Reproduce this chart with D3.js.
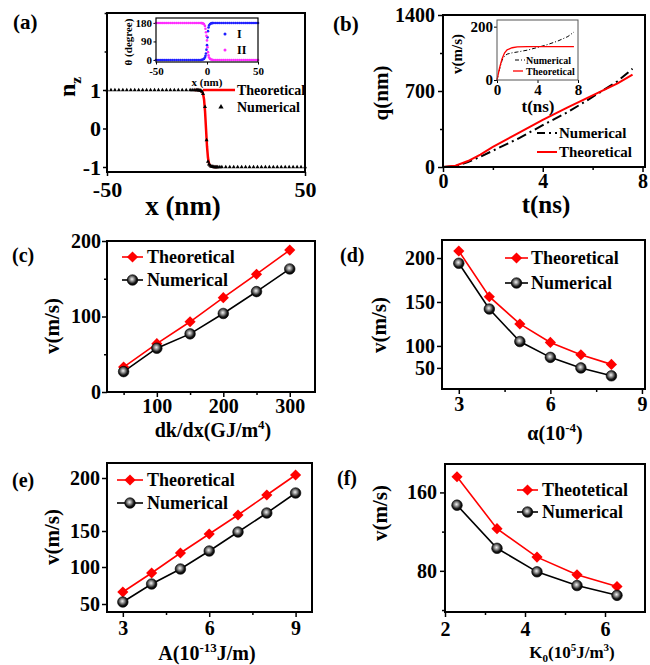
<!DOCTYPE html>
<html>
<head>
<meta charset="utf-8">
<script src="https://cdn.jsdelivr.net/npm/d3@7"></script>
<style>
body { margin: 0; background: #fff; }
text { font-family: 'Liberation Serif', 'Times New Roman', serif; font-weight: bold; fill: #000; }
</style>
</head>
<body>
<script>
// ---------- (a) domain wall profile ----------
const aTheoX = [-6, -4, -3, -2, -1.5, -1, -0.5, 0, 0.5, 1, 1.5, 2, 3, 4, 6];
const aTheoY = [1, 1, 0.99, 0.96, 0.9, 0.76, 0.46, 0, -0.46, -0.76, -0.9, -0.96, -0.99, -1, -1];
const aNumX = [-50, -48, -46, -44, -42, -40, -38, -36, -34, -32, -30, -28, -26, -24, -22, -20, -18, -16, -14, -12, -10, -8,
  -7, -6, -5, -4.5, -4, -3.5, -3, -2.5, -2, -1.5, -0.5, 0.3, 1, 1.5, 2, 2.5, 3, 3.5,
  4, 4.5, 5, 5.5, 6, 7, 8, 10, 12, 14, 16, 18, 20, 22, 24, 26, 28, 30, 32, 34, 36, 38, 40, 42, 44, 46, 48, 50];
const aNumY = [1, 1, 1, 1, 1, 1, 1, 1, 1, 1, 1, 1, 1, 1, 1, 1, 1, 1, 1, 1, 1, 1,
  1, 1, 1, 1, 1, 0.99, 0.99, 0.98, 0.96, 0.9, 0.56, -0.3, -0.86, -0.93, -0.96, -0.98, -0.99, -0.99,
  -1, -1, -1, -1, -1, -1, -1, -1, -1, -1, -1, -1, -1, -1, -1, -1, -1, -1, -1, -1, -1, -1, -1, -1, -1, -1, -1, -1];
// inset: theta of sublattices I and II
const thX = [-50, -48, -46, -44, -42, -40, -38, -36, -34, -32, -30, -28, -26, -24, -22, -20, -18, -16, -14, -12, -10, -8, -6,
  -5, -4, -3, -2, -1.5, -1, -0.5, 0, 0.5, 1, 1.5, 2, 3, 4, 5,
  6, 8, 10, 12, 14, 16, 18, 20, 22, 24, 26, 28, 30, 32, 34, 36, 38, 40, 42, 44, 46, 48, 50];
const thI = [0, 0, 0, 0, 0, 0, 0, 0, 0, 0, 0, 0, 0, 0, 0, 0, 0, 0, 0, 0, 0, 0, 0,
  1, 2, 5, 12, 20, 31, 50, 72, 110, 140, 158, 168, 175, 178, 179,
  180, 180, 180, 180, 180, 180, 180, 180, 180, 180, 180, 180, 180, 180, 180, 180, 180, 180, 180, 180, 180, 180, 180];
const thII = [180, 180, 180, 180, 180, 180, 180, 180, 180, 180, 180, 180, 180, 180, 180, 180, 180, 180, 180, 180, 180, 180, 180,
  179, 178, 174, 165, 152, 135, 117, 95, 62, 38, 22, 12, 5, 2, 1,
  0, 0, 0, 0, 0, 0, 0, 0, 0, 0, 0, 0, 0, 0, 0, 0, 0, 0, 0, 0, 0, 0, 0];

// ---------- (b) wall position and velocity vs time ----------
const bT = [0, 0.5, 1, 1.5, 2, 3, 4, 5, 6, 7, 7.6];
const bQTheo = [0, 12, 55, 115, 185, 310, 435, 550, 660, 770, 850];
const bQNum = [0, 10, 45, 95, 150, 260, 385, 505, 645, 790, 905];
const bvT = [0, 0.25, 0.5, 0.75, 1, 1.5, 2, 3, 4, 5, 6, 7, 7.6];
const bVTheo = [0, 45, 80, 102, 113, 121, 124, 125, 125, 125, 125, 125, 125];
const bVNum = [0, 40, 74, 90, 97, 102, 105, 112, 122, 133, 146, 163, 180];

// ---------- (c) v vs dk/dx ----------
const cX = [50, 100, 150, 200, 250, 300];
const cTheo = [33, 64, 93, 125, 156, 188];
const cNum = [27, 58, 77, 104, 133, 163];

// ---------- (d) v vs alpha ----------
const dX = [3, 4, 5, 6, 7, 8];
const dTheo = [208, 156, 125, 104, 90, 79];
const dNum = [194, 142, 105, 87, 75, 66];
const dYTicks = [75, 100, 150, 200];
const dYLabels = ["50", "100", "150", "200"];

// ---------- (e) v vs A ----------
const eX = [3, 4, 5, 6, 7, 8, 9];
const eTheo = [86, 105, 125, 144, 163, 183, 203];
const eNum = [76, 94, 109, 127, 146, 165, 185];
const eYTicks = [74, 111, 147, 200];
const eYLabels = ["50", "100", "150", "200"];

// ---------- (f) v vs K0 ----------
const fX = [2.3, 3.3, 4.3, 5.3, 6.3];
const fTheo = [176, 123, 94, 76, 64];
const fNum = [147, 103, 79, 65, 55];

const RED = "#ff0000";

const svg = d3.select("body").append("svg").attr("width", 650).attr("height", 665);

// --- gradiente para las bolitas ---
const grad = svg.append("defs").append("radialGradient")
    .attr("id", "ball").attr("cx", "0.45").attr("cy", "0.42").attr("r", "0.6");
[["0", "#f2f2f2"], ["0.3", "#9a9a9a"], ["0.7", "#161616"], ["1", "#000"]].forEach(s =>
    grad.append("stop").attr("offset", s[0]).attr("stop-color", s[1]));

// --- helpers ---
function styleAxis(sel, fs, tw) {
    sel.attr("font-family", null).attr("font-size", fs);
    sel.select(".domain").remove();
    sel.selectAll("line").attr("stroke", "#000").attr("stroke-width", tw);
    sel.selectAll("text").attr("font-size", fs);
}

function panel(box, xDom, yDom, o) {
    const [x0, y0, x1, y1] = box;
    const x = d3.scaleLinear().domain(xDom).range([x0, x1]);
    const y = d3.scaleLinear().domain(yDom).range([y1, y0]);
    const g = svg.append("g");
    if (o.bg) g.append("rect").attr("x", x0).attr("y", y0).attr("width", x1 - x0).attr("height", y1 - y0).attr("fill", "#fff");

    const lab = (vals, labels) => d => labels ? labels[vals.indexOf(d)] : d;
    g.append("g").attr("transform", `translate(0,${y1})`)
        .call(d3.axisBottom(x).tickValues(o.xTicks).tickFormat(lab(o.xTicks, o.xLabels)).tickSize(o.tick).tickPadding(o.xPad))
        .call(styleAxis, o.fs, o.tw);
    g.append("g").attr("transform", `translate(${x0},0)`)
        .call(d3.axisLeft(y).tickValues(o.yTicks).tickFormat(lab(o.yTicks, o.yLabels)).tickSize(o.tick).tickPadding(o.yPad))
        .call(styleAxis, o.fs, o.tw);
    if (o.xMinor) g.append("g").attr("transform", `translate(0,${y1})`)
        .call(d3.axisBottom(x).tickValues(o.xMinor).tickFormat("").tickSize(o.tick * 0.6)).call(styleAxis, o.fs, o.tw);
    if (o.yMinor) g.append("g").attr("transform", `translate(${x0},0)`)
        .call(d3.axisLeft(y).tickValues(o.yMinor).tickFormat("").tickSize(o.tick * 0.6)).call(styleAxis, o.fs, o.tw);

    const data = g.append("g");
    g.append("rect").attr("x", x0).attr("y", y0).attr("width", x1 - x0).attr("height", y1 - y0)
        .attr("fill", "none").attr("stroke", o.frameColor || "#000").attr("stroke-width", o.sw);
    return { x, y, g: data };
}

function drawLine(p, xs, ys, color, w, dash) {
    p.g.append("path")
        .datum(xs.map((d, i) => [d, ys[i]]))
        .attr("d", d3.line().x(d => p.x(d[0])).y(d => p.y(d[1])))
        .attr("fill", "none").attr("stroke", color).attr("stroke-width", w)
        .attr("stroke-dasharray", dash || null);
}

const diamondPath = d3.symbol(d3.symbolSquare, 62)();
function drawDiamonds(p, xs, ys) {
    p.g.selectAll(null).data(xs.map((d, i) => [d, ys[i]])).enter().append("path")
        .attr("d", diamondPath)
        .attr("transform", d => `translate(${p.x(d[0])},${p.y(d[1])}) rotate(45)`)
        .attr("fill", RED);
}
function drawBalls(p, xs, ys) {
    p.g.selectAll(null).data(xs.map((d, i) => [d, ys[i]])).enter().append("circle")
        .attr("cx", d => p.x(d[0])).attr("cy", d => p.y(d[1])).attr("r", 5.3)
        .attr("fill", "url(#ball)").attr("stroke", "#000").attr("stroke-width", 0.6);
}

// text with optional sub/superscripts: parts = ["txt", ["4","sup"], ...]
function label(x, y, parts, size, anchor, opts) {
    opts = opts || {};
    const t = svg.append("text").attr("x", x).attr("y", y)
        .attr("font-size", size).attr("text-anchor", anchor || "start");
    if (opts.rotate) t.attr("transform", `rotate(-90,${x},${y})`);
    let shift = 0;
    (Array.isArray(parts) ? parts : [parts]).forEach(p => {
        const isArr = Array.isArray(p);
        const kind = isArr ? p[1] : null;
        const target = kind === "sup" ? -size * 0.4 : kind === "sub" ? size * 0.25 : 0;
        t.append("tspan").attr("dy", target - shift)
            .attr("font-size", kind ? size * 0.65 : size)
            .text(isArr ? p[0] : p);
        shift = target;
    });
    return t;
}

function legendLineMarker(x1, x2, y, kind, text, tx, fs) {
    const g = svg.append("g");
    g.append("line").attr("x1", x1).attr("x2", x2).attr("y1", y).attr("y2", y)
        .attr("stroke", kind === "d" ? RED : "#000").attr("stroke-width", 1.6);
    const cx = (x1 + x2) / 2;
    if (kind === "d") g.append("path").attr("d", diamondPath).attr("transform", `translate(${cx},${y}) rotate(45)`).attr("fill", RED);
    else g.append("circle").attr("cx", cx).attr("cy", y).attr("r", 5.3).attr("fill", "url(#ball)").attr("stroke", "#000").attr("stroke-width", 0.6);
    label(tx, y + fs * 0.33, text, fs, "start");
}

// ================= (a) =================
const pa = panel([107, 13, 305, 172], [-50, 50], [-1.13, 3], {
    xTicks: [-50, 50], yTicks: [-1, 0, 1], yMinor: [2, 3],
    tick: 4, xPad: 5, yPad: 2, fs: 22, tw: 1.5, sw: 2
});
drawLine(pa, aTheoX, aTheoY, RED, 2.5);
pa.g.selectAll(null).data(aNumX.map((d, i) => [d, aNumY[i]])).enter().append("path")
    .attr("d", d3.symbol(d3.symbolTriangle, 7)())
    .attr("transform", d => `translate(${pa.x(d[0])},${pa.y(d[1])})`)
    .attr("fill", "#000");
// leyenda (a)
svg.append("line").attr("x1", 203).attr("x2", 235).attr("y1", 90).attr("y2", 90).attr("stroke", RED).attr("stroke-width", 2.5);
label(237, 95, "Theoretical", 14, "start");
svg.append("path").attr("d", d3.symbol(d3.symbolTriangle, 12)()).attr("transform", "translate(221,107)").attr("fill", "#000");
label(237, 112, "Numerical", 14, "start");

// inset (a)
const pai = panel([156, 18, 258, 62], [-50, 50], [-10, 204], {
    xTicks: [-50, 0, 50], yTicks: [0, 90, 180],
    tick: 2.5, xPad: 2.5, yPad: 1.5, fs: 11, tw: 1, sw: 1.2, bg: true
});
[[thI, "#1f1fff"], [thII, "#ff2bff"]].forEach(([ys, c]) => {
    pai.g.selectAll(null).data(thX.map((d, i) => [d, ys[i]])).enter().append("circle")
        .attr("cx", d => pai.x(d[0])).attr("cy", d => pai.y(d[1])).attr("r", 1.3).attr("fill", c);
});
svg.append("circle").attr("cx", 225).attr("cy", 34).attr("r", 1.5).attr("fill", "#1f1fff");
label(237, 38, "I", 12, "start");
svg.append("circle").attr("cx", 225).attr("cy", 50).attr("r", 1.5).attr("fill", "#ff2bff");
label(237, 54, "II", 12, "start");
label(207, 86, "x (nm)", 11, "middle");
label(132, 42, "θ (degree)", 11, "middle", { rotate: true });

label(13, 29, "(a)", 21, "start");
label(75, 97, ["n", ["z", "sub"]], 24, "start", { rotate: true });
label(183, 215, "x (nm)", 27, "middle");

// ================= (b) =================
const pb = panel([443, 15, 645, 167], [0, 8.1], [0, 1400], {
    xTicks: [0, 4, 8], xMinor: [2, 6], yTicks: [0, 700, 1400], yMinor: [350, 1050],
    tick: 5, xPad: 2, yPad: 3, fs: 20, tw: 1.5, sw: 2
});
drawLine(pb, bT, bQNum, "#000", 2, "10,4,2,4");
drawLine(pb, bT, bQTheo, RED, 2);
// leyenda (b)
svg.append("line").attr("x1", 537).attr("x2", 557).attr("y1", 133).attr("y2", 133).attr("stroke", "#000").attr("stroke-width", 2).attr("stroke-dasharray", "8,4,2,4");
label(559, 138, "Numerical", 15, "start");
svg.append("line").attr("x1", 537).attr("x2", 557).attr("y1", 152).attr("y2", 152).attr("stroke", RED).attr("stroke-width", 2);
label(559, 157, "Theoretical", 15, "start");

// inset (b)
const pbi = panel([497, 20, 578, 80], [0, 8], [0, 225], {
    xTicks: [0, 4, 8], yTicks: [0, 200],
    tick: 3, xPad: 1, yPad: 1, fs: 15, tw: 1, sw: 1, bg: true, frameColor: "#555"
});
drawLine(pbi, bvT, bVNum, "#000", 1, "4,2,1,2");
drawLine(pbi, bvT, bVTheo, RED, 1.3);
svg.append("line").attr("x1", 515).attr("x2", 525).attr("y1", 60).attr("y2", 60).attr("stroke", "#000").attr("stroke-width", 1).attr("stroke-dasharray", "4,2,1,2");
label(526, 63.5, "Numerical", 10, "start");
svg.append("line").attr("x1", 513).attr("x2", 523).attr("y1", 71).attr("y2", 71).attr("stroke", RED).attr("stroke-width", 1.3);
label(526, 74.5, "Theoretical", 10, "start");
label(462, 54, "v(m/s)", 15, "middle", { rotate: true });
label(538, 112, "t(ns)", 17, "middle");

label(333, 31, "(b)", 21, "start");
label(388, 93, "q(nm)", 21, "middle", { rotate: true });
label(546, 213, "t(ns)", 25, "middle");

// ================= (c) =================
const pc = panel([107, 241, 315, 392], [25, 338], [0, 200], {
    xTicks: [100, 200, 300], xMinor: [50, 150, 250], yTicks: [0, 100, 200], yMinor: [50, 150],
    tick: 5, xPad: 2, yPad: 1, fs: 20, tw: 1.5, sw: 2
});
drawLine(pc, cX, cTheo, RED, 1.6);
drawLine(pc, cX, cNum, "#000", 1.6);
drawDiamonds(pc, cX, cTheo);
drawBalls(pc, cX, cNum);
legendLineMarker(122, 143, 257, "d", "Theoretical", 147, 18);
legendLineMarker(122, 143, 280, "b", "Numerical", 147, 18);
label(12, 262, "(c)", 20, "start");
label(59, 326, "v(m/s)", 21, "middle", { rotate: true });
label(213, 437, ["dk/dx(GJ/m", ["4", "sup"], ")"], 20, "middle");

// ================= (d) =================
const pd = panel([442, 240, 645, 389], [2.45, 9.1], [51, 220.5], {
    xTicks: [3, 6, 9], xMinor: [4.5, 7.5], yTicks: dYTicks, yLabels: dYLabels,
    tick: 5, xPad: 3, yPad: 2, fs: 20, tw: 1.5, sw: 2
});
drawLine(pd, dX, dTheo, RED, 1.6);
drawLine(pd, dX, dNum, "#000", 1.6);
drawDiamonds(pd, dX, dTheo);
drawBalls(pd, dX, dNum);
legendLineMarker(505, 528, 258, "d", "Theoretical", 531, 18);
legendLineMarker(505, 528, 283, "b", "Numerical", 531, 18);
label(340, 262, "(d)", 20, "start");
label(386, 325, "v(m/s)", 21, "middle", { rotate: true });
label(555, 440, ["α(10", ["-4", "sup"], ")"], 20, "middle");

// ================= (e) =================
const pe = panel([107, 463, 312, 612], [2.45, 9.57], [66, 215], {
    xTicks: [3, 6, 9], xMinor: [4.5, 7.5], yTicks: eYTicks, yLabels: eYLabels,
    tick: 5, xPad: 4, yPad: 2, fs: 20, tw: 1.5, sw: 2
});
drawLine(pe, eX, eTheo, RED, 1.6);
drawLine(pe, eX, eNum, "#000", 1.6);
drawDiamonds(pe, eX, eTheo);
drawBalls(pe, eX, eNum);
legendLineMarker(117, 143, 480, "d", "Theoretical", 147, 18);
legendLineMarker(117, 143, 503, "b", "Numerical", 147, 18);
label(12, 487, "(e)", 20, "start");
label(59, 537, "v(m/s)", 21, "middle", { rotate: true });
label(207, 660, ["A(10", ["-13", "sup"], "J/m)"], 20, "middle");

// ================= (f) =================
const pf = panel([445, 464, 645, 612], [2, 7], [38, 189], {
    xTicks: [2, 4, 6], xMinor: [3, 5], yTicks: [80, 160], yMinor: [40, 120],
    tick: 5, xPad: 5, yPad: 3, fs: 20, tw: 1.5, sw: 2
});
drawLine(pf, fX, fTheo, RED, 1.6);
drawLine(pf, fX, fNum, "#000", 1.6);
drawDiamonds(pf, fX, fTheo);
drawBalls(pf, fX, fNum);
legendLineMarker(517, 538, 490, "d", "Theotetical", 542, 18);
legendLineMarker(517, 538, 512, "b", "Numerical", 542, 18);
label(337, 485, "(f)", 20, "start");
label(387, 513, "v(m/s)", 21, "middle", { rotate: true });
label(572, 658, ["K", ["0", "sub"], "(10", ["5", "sup"], "J/m", ["3", "sup"], ")"], 17, "middle");
</script>
</body>
</html>
